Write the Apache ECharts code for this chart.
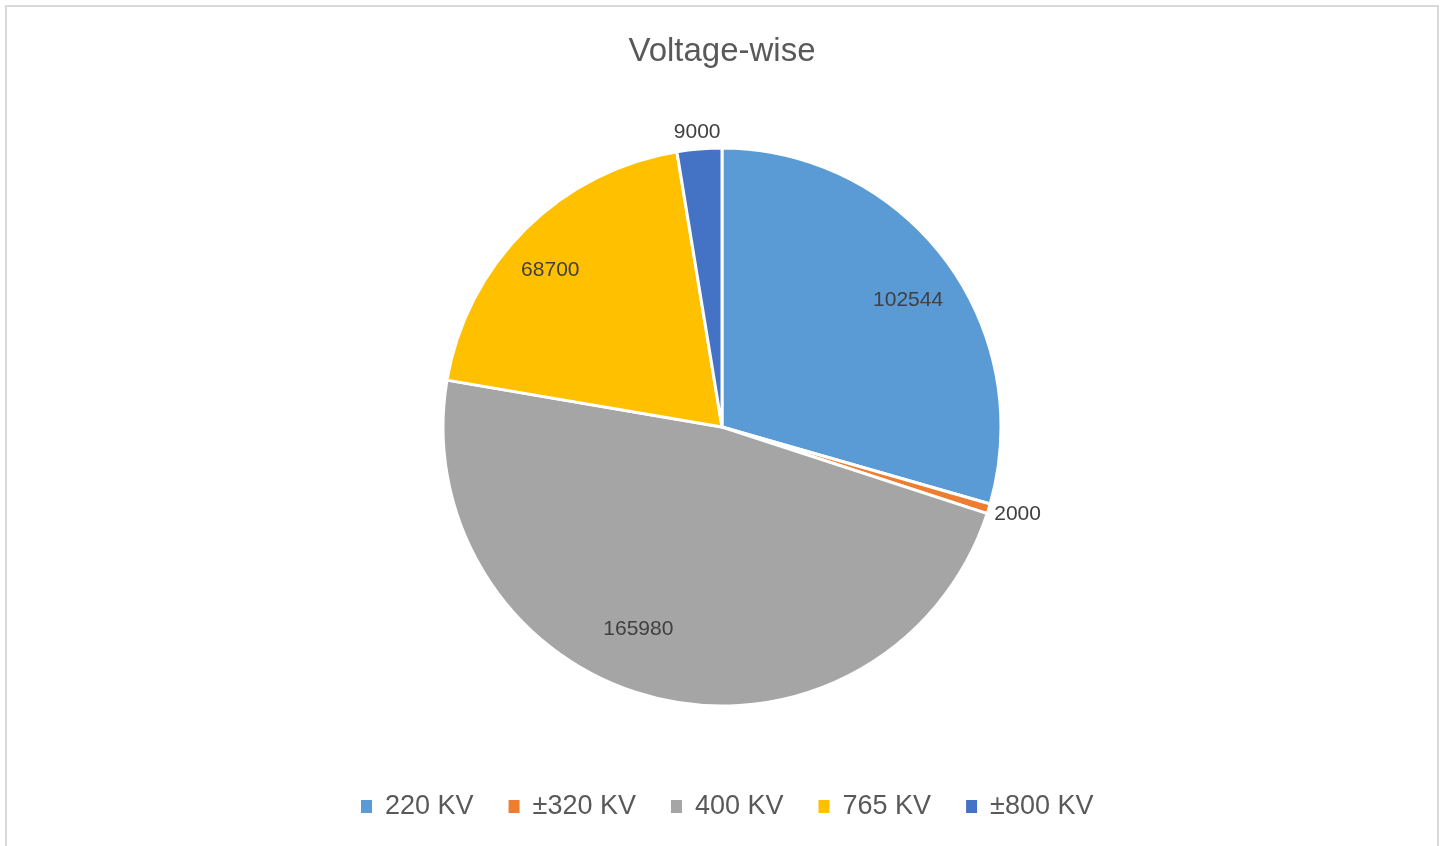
<!DOCTYPE html>
<html>
<head>
<meta charset="utf-8">
<script src="https://cdn.jsdelivr.net/npm/echarts@6/dist/echarts.min.js"></script>
<style>
  html, body { margin: 0; padding: 0; background: #fff; overflow: hidden; }
  #frame { position: absolute; left: 5px; top: 5px; width: 1430px; height: 900px; border: 2px solid #d9d9d9; }
  #main { position: absolute; left: 0; top: 0; width: 1444px; height: 846px; }
</style>
</head>
<body>
<div id="frame"></div>
<div id="main"></div>
<script>
// voltage levels and values
var categories = ['220 KV', '±320 KV', '400 KV', '765 KV', '±800 KV'];
var values = [102544, 2000, 165980, 68700, 9000];
var colors = ['#5B9BD5', '#ED7D31', '#A5A5A5', '#FFC000', '#4472C4'];
// which labels Excel put outside the pie, and small nudges for its "best fit" placement
var outsideLabel = [false, true, false, false, true];
var labelNudge = [[4, 10], [3, -2], [-29, -19], [-11, 5], [0, 10]];

var FONT = '"Liberation Sans", Arial, sans-serif';

var pieData = categories.map(function (name, i) {
    return { name: name, value: values[i], itemStyle: { color: colors[i] } };
});
var innerLabelData = categories.map(function (name, i) {
    return { name: name, value: values[i], label: { show: !outsideLabel[i], offset: labelNudge[i] } };
});
var outerLabelData = categories.map(function (name, i) {
    return { name: name, value: values[i], label: { show: outsideLabel[i], offset: labelNudge[i] } };
});

var labelStyle = {
    position: 'inside',
    formatter: '{c}',
    color: '#404040',
    fontFamily: FONT,
    fontSize: 21
};

var myChart = echarts.init(document.getElementById('main'));
myChart.setOption({
    animation: false,
    title: {
        text: 'Voltage-wise',
        left: 'center',
        top: 30,
        textStyle: { color: '#595959', fontFamily: FONT, fontSize: 33, fontWeight: 'normal' }
    },
    legend: {
        data: categories,
        bottom: 21,
        left: 354,
        icon: 'rect',
        itemWidth: 13,
        itemHeight: 15,
        itemGap: 33,
        textStyle: { color: '#595959', fontFamily: FONT, fontSize: 27, padding: [0, 0, 0, 7] }
    },
    series: [{
        name: 'main',
        type: 'pie',
        center: [722, 427],
        radius: [0, 279],
        startAngle: 90,
        clockwise: true,
        label: { show: false },
        labelLine: { show: false },
        emphasis: { disabled: true },
        itemStyle: { borderColor: '#fff', borderWidth: 3 },
        data: pieData
    }, {
        name: 'innerLabels',
        type: 'pie',
        silent: true,
        center: [722, 427],
        radius: [172, 278],
        startAngle: 90,
        itemStyle: { color: 'transparent' },
        label: labelStyle,
        labelLine: { show: false },
        emphasis: { disabled: true },
        data: innerLabelData
    }, {
        name: 'outerLabels',
        type: 'pie',
        silent: true,
        center: [722, 427],
        radius: [285, 321],
        startAngle: 90,
        itemStyle: { color: 'transparent' },
        label: labelStyle,
        labelLine: { show: false },
        emphasis: { disabled: true },
        data: outerLabelData
    }]
});
</script>
</body>
</html>
